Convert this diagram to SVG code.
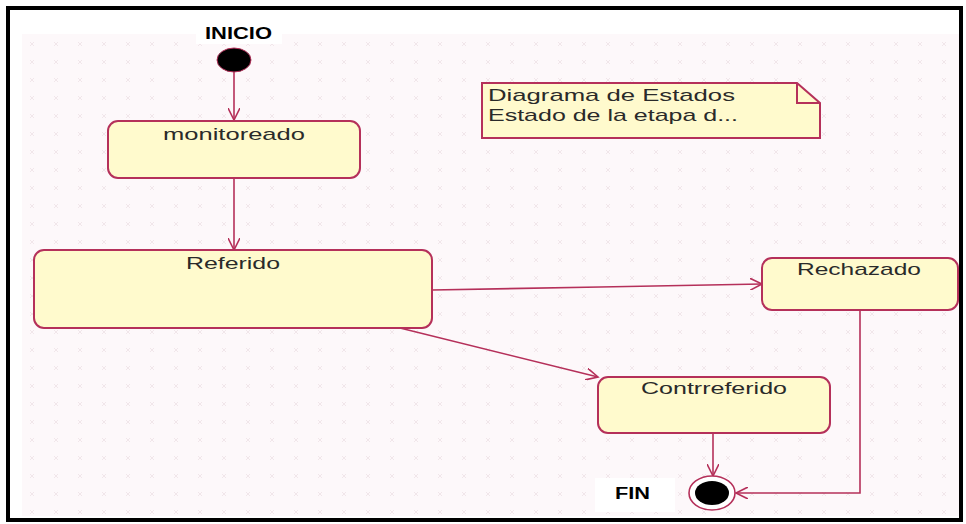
<svg xmlns="http://www.w3.org/2000/svg" width="966" height="524" viewBox="0 0 966 524">
<defs>
<style>
.st{fill:#fffacd;stroke:#b5305a;stroke-width:2}
.ln{fill:none;stroke:#b5305a;stroke-width:1.6}
.lbl{font-family:"Liberation Sans",Arial,sans-serif;font-size:17px;fill:#2a2a2a}
.bold{font-family:"Liberation Sans",Arial,sans-serif;font-size:16px;font-weight:bold;fill:#000}
.note{font-family:"Liberation Sans",Arial,sans-serif;font-size:17px;fill:#2a2a2a}
</style>
<marker id="arr" markerWidth="14" markerHeight="12" refX="12" refY="6" orient="auto" markerUnits="userSpaceOnUse">
<path d="M0,0 L12,6 L0,12" fill="none" stroke="#b5305a" stroke-width="1.6"/>
</marker>
<pattern id="bgp" width="24" height="18" patternUnits="userSpaceOnUse">
<rect width="24" height="18" fill="#fdf8fa"/>
<path d="M6,6 l4,4 M10,6 l-4,4" stroke="#f1e6ea" stroke-width="1"/>
</pattern>
</defs>
<rect x="0" y="0" width="966" height="524" fill="#ffffff"/>
<rect x="22" y="34" width="938" height="482" fill="url(#bgp)"/>
<rect x="8" y="8" width="953" height="512" fill="none" stroke="#000" stroke-width="4"/>

<g id="connectors">
<line class="ln" x1="234" y1="72" x2="234" y2="120" marker-end="url(#arr)"/>
<line class="ln" x1="234" y1="178" x2="234" y2="250" marker-end="url(#arr)"/>
<polyline class="ln" points="432,290 600,287 762,284" marker-end="url(#arr)"/>
<line class="ln" x1="400" y1="328" x2="598" y2="377" marker-end="url(#arr)"/>
<line class="ln" x1="713" y1="433" x2="713" y2="476" marker-end="url(#arr)"/>
<polyline class="ln" points="860,310 860,493 736,493" marker-end="url(#arr)"/>
</g>

<g id="inicio">
<rect x="196" y="22" width="86" height="22" fill="#ffffff"/>
<text class="bold" x="205" y="39" textLength="67" lengthAdjust="spacingAndGlyphs">INICIO</text>
<ellipse cx="234" cy="60" rx="17" ry="12" fill="#000" stroke="#b5305a" stroke-width="1"/>
</g>

<g id="monitoreado">
<rect class="st" x="108" y="121" width="252" height="57" rx="10"/>
<text class="lbl" x="163" y="140" textLength="142" lengthAdjust="spacingAndGlyphs">monitoreado</text>
</g>

<g id="referido">
<rect class="st" x="34" y="250" width="398" height="78" rx="10"/>
<text class="lbl" x="186" y="269" textLength="94" lengthAdjust="spacingAndGlyphs">Referido</text>
</g>

<g id="rechazado">
<rect class="st" x="762" y="258" width="196" height="52" rx="10"/>
<text class="lbl" x="797" y="275" textLength="124" lengthAdjust="spacingAndGlyphs">Rechazado</text>
</g>

<g id="contrreferido">
<rect class="st" x="598" y="377" width="232" height="56" rx="10"/>
<text class="lbl" x="641" y="394" textLength="146" lengthAdjust="spacingAndGlyphs">Contrreferido</text>
</g>

<g id="fin">
<rect x="595" y="478" width="80" height="34" fill="#ffffff"/>
<text class="bold" x="615" y="499" textLength="35" lengthAdjust="spacingAndGlyphs">FIN</text>
<ellipse cx="712" cy="493" rx="23" ry="17" fill="#fff" stroke="#b5305a" stroke-width="1.6"/>
<ellipse cx="712" cy="493" rx="17" ry="12" fill="#000"/>
</g>

<g id="note">
<path class="st" d="M482,83 H797 L820,103 V138 H482 Z"/>
<path d="M797,83 V103 H820" fill="none" stroke="#b5305a" stroke-width="2"/>
<text class="note" x="488" y="101" textLength="247" lengthAdjust="spacingAndGlyphs">Diagrama de Estados</text>
<text class="note" x="488" y="121" textLength="250" lengthAdjust="spacingAndGlyphs">Estado de la etapa d...</text>
</g>
</svg>
